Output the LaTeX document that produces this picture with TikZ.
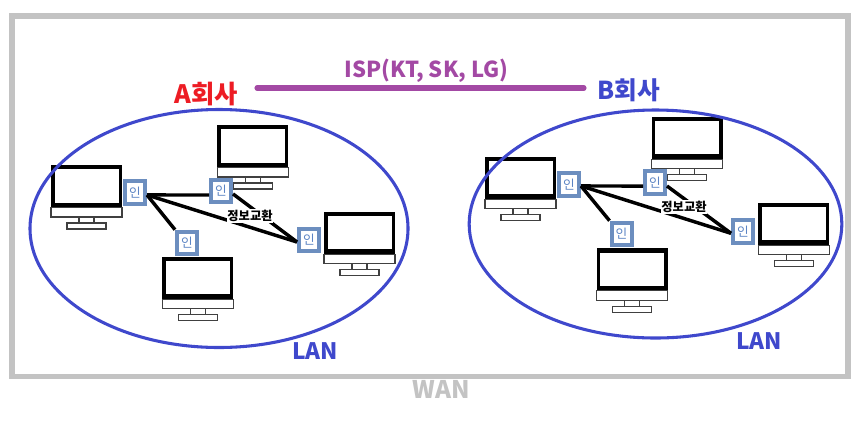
\documentclass[tikz,border=0pt]{standalone}
\usepackage{fontspec}
\usepackage{xcolor}
\usetikzlibrary{shapes.geometric}
\setmainfont{Noto Sans CJK KR}
\definecolor{cwan}{HTML}{C3C3C3}
\definecolor{clan}{HTML}{3F48CC}
\definecolor{cisp}{HTML}{A349A4}
\definecolor{cred}{HTML}{ED1C24}
\definecolor{cinborder}{HTML}{6C8EBF}
\definecolor{cintext}{HTML}{5B84C4}
\tikzset{
    monitor/.pic={
        \fill[black] (0,0) rectangle (71,42.5);
        \fill[white] (3.7,4.2) rectangle (67.7,37.5);
        \draw[black!75, line width=0.8pt] (0,42.5) rectangle (71,52);
        \draw[black!75, line width=0.8pt] (28,52) rectangle (43,58);
        \draw[black!75, line width=0.8pt] (16,58) rectangle (55,64);
    }
}

\begin{document}
\begin{tikzpicture}[
    x=0.75pt, y=-0.75pt,
    lanring/.style={draw=clan, ellipse, line width=2.3pt, inner sep=0pt},
    inbox/.style={draw=cinborder, fill=white, line width=3pt, minimum width=15pt, minimum height=17pt,
                  inner sep=0pt, text=cintext, font=\fontsize{9.5pt}{10pt}\selectfont},
    link/.style={line width=2.6pt, draw=black},
    isp/.style={line width=3.8pt, draw=cisp, line cap=round},
    swap/.style={fill=white, inner sep=0.6pt, font=\fontsize{9.2pt}{10pt}\selectfont\bfseries},
    biglabel/.style={inner sep=0pt, font=\fontsize{#1}{20pt}\selectfont\bfseries}
]
\useasboundingbox (0,0) rectangle (855,429);
\node[draw=cwan, line width=4.1pt, minimum width=627pt, minimum height=270.4pt, inner sep=0pt] (wan) at (430,196.2) {};
\node[biglabel=18.2pt, text=cwan] (wanlabel) at (441.5,389.5) {WAN};
% company A
\pic at (51,165) {monitor};
\pic at (217.3,125) {monitor};
\pic at (324,211.7) {monitor};
\pic at (162.3,256.7) {monitor};
\node[lanring, minimum width=283.5pt, minimum height=178.5pt] (lanA) at (219,228.5) {};
\node[inbox] (inA1) at (135,192.7) {인};
\node[inbox] (inA2) at (221,191) {인};
\node[inbox] (inA3) at (309,240) {인};
\node[inbox] (inA4) at (187,243) {인};
\draw[link] ([yshift=-1.7pt]inA1.east) -- ([yshift=-3pt]inA2.west);
\draw[link] ([yshift=-1.7pt]inA1.east) -- ([yshift=-1.5pt]inA3.west);
\draw[link] ([yshift=-1.7pt]inA1.east) -- (inA4.north west);
\draw[link] ([yshift=-2.2pt]inA2.east) -- ([yshift=-1.5pt]inA3.west);
\node[swap] (swapA) at (250,216) {정보교환};
\node[biglabel=19pt, text=cred] (compA) at (206,94) {A회사};
\node[biglabel=17pt, text=clan] (lanlabelA) at (315,351) {LAN};
% company B
\pic at (485,156.7) {monitor};
\pic at (651.7,116.7) {monitor};
\pic at (758.3,202.7) {monitor};
\pic at (596.7,248.3) {monitor};
\node[lanring, minimum width=279.5pt, minimum height=171pt] (lanB) at (655.5,224) {};
\node[inbox] (inB1) at (569,184.5) {인};
\node[inbox] (inB2) at (655,182.7) {인};
\node[inbox] (inB3) at (743,231.7) {인};
\node[inbox] (inB4) at (621.5,234) {인};
\draw[link] ([yshift=-1.1pt]inB1.east) -- ([yshift=-2.5pt]inB2.west);
\draw[link] ([yshift=-1.1pt]inB1.east) -- ([yshift=-1.2pt]inB3.west);
\draw[link] ([yshift=-1.1pt]inB1.east) -- (inB4.north west);
\draw[link] ([yshift=-2.5pt]inB2.east) -- ([yshift=-1.2pt]inB3.west);
\node[swap] (swapB) at (684,207) {정보교환};
\node[biglabel=18.5pt, text=clan] (compB) at (629,90.5) {B회사};
\node[biglabel=17pt, text=clan] (lanlabelB) at (759,341) {LAN};
% ISP
\coordinate (ispA) at (257,88);
\coordinate (ispB) at (584,88);
\draw[isp] (ispA) -- (ispB);
\node[biglabel=16.5pt, text=cisp] (isplabel) at (426.5,71) {ISP(KT, SK, LG)};
\end{tikzpicture}
\end{document}
